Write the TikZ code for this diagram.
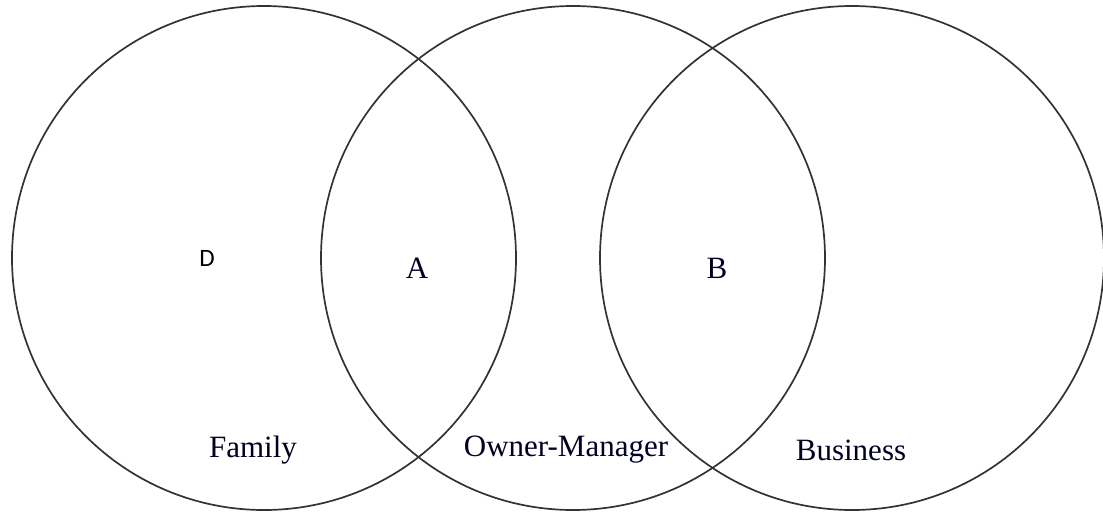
\documentclass[tikz,border=0pt]{standalone}
\usepackage{fontspec}
\setmainfont{Liberation Serif}
\newfontfamily\dfont{Carlito}
\begin{document}
\begin{tikzpicture}[x=1pt,y=-1pt,
  ring/.style={draw=black!80,line width=1.7pt,circle,minimum size=504pt,inner sep=0pt},
  lbl/.style={font=\fontsize{31}{33}\selectfont,text=black!85!blue,inner sep=0pt},
  dl/.style={inner sep=0pt}]
\useasboundingbox (0,0) rectangle (1103,514);
\node[ring] (fam) at (264,258) {};
\node[ring] (own) at (573,258) {};
\node[ring] (bus) at (852,258) {};
\node[dl] (d) at (207,258) {\dfont\fontsize{25}{27}\selectfont D};
\node[lbl] (a) at (417,268) {A};
\node[lbl] (b) at (717,268) {B};
\node[lbl] (family) at (253,450) {Family};
\node[lbl] (owner) at (566,450) {Owner-Manager};
\node[lbl] (business) at (851,450) {Business};
\end{tikzpicture}
\end{document}
